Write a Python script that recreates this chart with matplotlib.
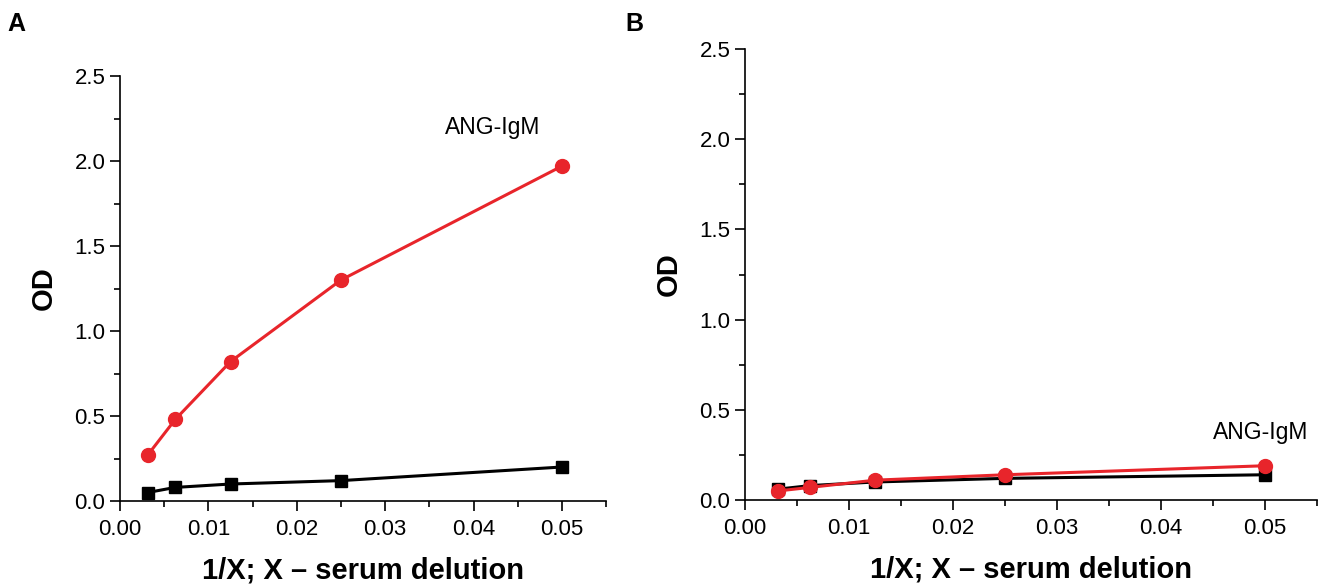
import numpy as np
import matplotlib
matplotlib.use("Agg")
import matplotlib.pyplot as plt
from matplotlib.ticker import MultipleLocator

plt.rcParams['font.family'] = ['Liberation Sans', 'DejaVu Sans']

# serum dilutions 1/320 ... 1/20
x = [1/320, 1/160, 1/80, 1/40, 1/20]

a_igm = [0.27, 0.48, 0.82, 1.30, 1.97]
a_ctrl = [0.05, 0.08, 0.10, 0.12, 0.20]
b_igm = [0.05, 0.07, 0.11, 0.14, 0.19]
b_ctrl = [0.06, 0.08, 0.10, 0.12, 0.14]

panels = ["A", "B"]
series_label = "ANG-IgM"
red = "#e8252b"

fig = plt.figure(figsize=(13.25, 5.84), dpi=100)
ax_a = fig.add_axes([0.0906, 0.1421, 0.3668, 0.7277])
ax_b = fig.add_axes([0.5623, 0.1438, 0.4317, 0.7723])


def style(ax):
    ax.set_xlim(0, 0.055)
    ax.set_ylim(0, 2.5)
    ax.spines['top'].set_visible(False)
    ax.spines['right'].set_visible(False)
    ax.xaxis.set_major_locator(MultipleLocator(0.01))
    ax.xaxis.set_minor_locator(MultipleLocator(0.005))
    ax.yaxis.set_major_locator(MultipleLocator(0.5))
    ax.yaxis.set_minor_locator(MultipleLocator(0.25))
    ax.xaxis.set_major_formatter(lambda v, p: f"{v:.2f}")
    ax.yaxis.set_major_formatter(lambda v, p: f"{v:.1f}")
    ax.tick_params(which='major', direction='out', length=7, width=1.2, labelsize=16)
    ax.tick_params(axis='x', which='major', pad=6)
    ax.tick_params(which='minor', direction='out', length=4, width=1.2)
    ax.set_xlabel("1/X; X – serum delution", fontsize=21, fontweight='bold', labelpad=12)
    ax.set_ylabel("OD", fontsize=21, fontweight='bold', labelpad=12)
    for s in ax.spines.values():
        s.set_linewidth(1.2)


# panel A
ax_a.plot(x, a_ctrl, '-s', color='black', lw=2.2, ms=9, clip_on=False)
ax_a.plot(x, a_igm, '-o', color=red, lw=2.2, ms=10, clip_on=False)
ax_a.text(0.0368, 2.2, series_label, fontsize=16.5, va='center')
style(ax_a)

# panel B
ax_b.plot(x, b_ctrl, '-s', color='black', lw=2.2, ms=9, clip_on=False)
ax_b.plot(x, b_igm, '-o', color=red, lw=2.2, ms=10, clip_on=False)
ax_b.text(0.045, 0.377, series_label, fontsize=16.5, va='center')
style(ax_b)

fig.text(7/1325, 1 - 24/584, panels[0], fontsize=18, fontweight='bold', va='center')
fig.text(625/1325, 1 - 24/584, panels[1], fontsize=18, fontweight='bold', va='center')

plt.savefig("out.png", dpi=100)
